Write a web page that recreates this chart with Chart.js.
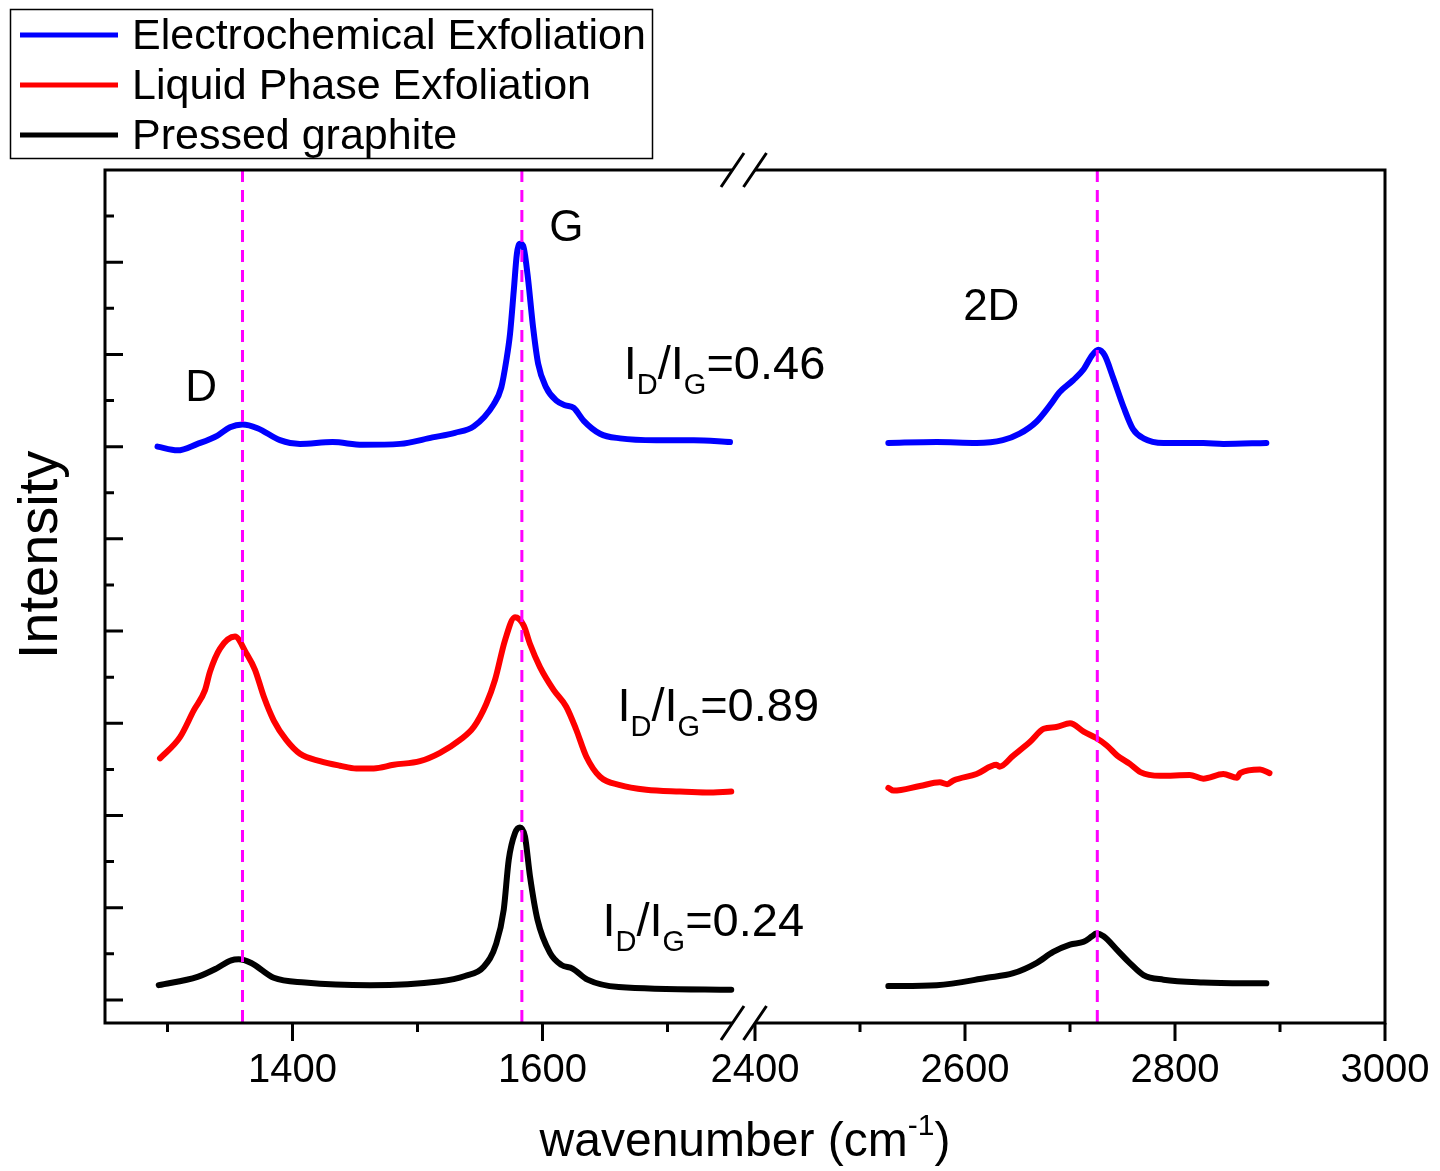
<!DOCTYPE html>
<html>
<head>
<meta charset="utf-8">
<script src="https://cdn.jsdelivr.net/npm/chart.js@4.4.1/dist/chart.umd.min.js"></script>
<style>
html,body{margin:0;padding:0;background:#fff;}
canvas{display:block;}
</style>
</head>
<body>
<canvas id="c" width="1440" height="1171"></canvas>
<script>
// ---------------- DATA ----------------
const seriesNames = ['Electrochemical Exfoliation', 'Liquid Phase Exfoliation', 'Pressed graphite'];
const seriesColors = ['#0000FF', '#FF0000', '#000000'];

// Electrochemical Exfoliation (blue)
const blueLeftWave = [1292,1308,1324,1340,1350,1360,1372,1390,1406,1432,1456,1486,1512,1530,1545,1561,1567,1571,1574,1577,1579.5,1582,1584.5,1588,1592.5,1596.5,1603,1611,1618,1625,1633,1646,1662,1691,1721,1750];
const blueLeftInt  = [6.00,5.96,6.03,6.12,6.21,6.24,6.20,6.07,6.03,6.05,6.02,6.03,6.10,6.15,6.22,6.46,6.64,6.93,7.22,7.69,8.09,8.20,8.18,7.87,7.29,6.90,6.64,6.50,6.45,6.42,6.28,6.14,6.09,6.07,6.07,6.05];
const blueRightWave = [2527,2573,2611,2636,2652,2668,2681,2690,2703,2713,2721,2727,2733,2741,2751,2760,2770,2789,2827,2846,2887];
const blueRightInt  = [6.04,6.05,6.04,6.07,6.14,6.27,6.45,6.59,6.72,6.84,6.99,7.05,6.99,6.75,6.43,6.19,6.09,6.04,6.04,6.03,6.04];

// Liquid Phase Exfoliation (red)
const redLeftWave = [1294,1310,1321,1330,1334,1342,1354,1363,1370,1377,1385,1395,1406,1422,1438,1451,1465,1481,1502,1518,1534,1545,1555,1562,1570,1578,1585,1590,1598,1609,1619,1627,1635,1646,1662,1683,1710,1731,1751];
const redLeftInt  = [2.62,2.85,3.14,3.36,3.56,3.81,3.94,3.76,3.58,3.29,3.03,2.82,2.67,2.59,2.54,2.51,2.51,2.55,2.59,2.68,2.82,2.96,3.21,3.47,3.90,4.15,4.06,3.86,3.61,3.36,3.18,2.93,2.64,2.42,2.33,2.28,2.26,2.25,2.26];
const redRightWave = [2527,2532,2557,2576,2583,2589,2611,2630,2633,2646,2662,2675,2687,2700,2713,2725,2735,2745,2757,2767,2786,2814,2827,2846,2859,2862,2881,2890];
const redRightInt  = [2.30,2.27,2.32,2.36,2.34,2.38,2.45,2.55,2.53,2.65,2.80,2.94,2.96,3.00,2.91,2.84,2.76,2.65,2.56,2.47,2.43,2.44,2.40,2.45,2.41,2.46,2.50,2.46];

// Pressed graphite (black)
const blackLeftWave = [1293,1324,1339,1351,1357,1367,1385,1410,1462,1517,1538,1553,1563,1569,1573,1578,1582,1586,1590,1596,1606,1615,1624,1636,1661,1751];
const blackLeftInt  = [0.16,0.25,0.34,0.43,0.44,0.40,0.24,0.19,0.16,0.20,0.26,0.36,0.61,0.98,1.52,1.81,1.87,1.77,1.34,0.87,0.51,0.38,0.34,0.22,0.14,0.11];
const blackRightWave = [2527,2573,2621,2646,2668,2684,2700,2713,2721,2725,2732,2745,2757,2770,2789,2827,2887];
const blackRightInt  = [0.15,0.16,0.24,0.29,0.40,0.52,0.60,0.63,0.69,0.72,0.69,0.54,0.40,0.27,0.22,0.19,0.18];

// Peak reference lines (D, G, 2D)
const peakLineWave = [1360, 1583.5, 2726];

// Axis ticks
const xMajorTicks = [1400, 1600, 2400, 2600, 2800, 3000];
const xMinorTicks = [1300, 1500, 1700, 2500, 2700, 2900];
const yMajorTicks = [0, 1, 2, 3, 4, 5, 6, 7, 8];
const yMinorTicks = [0.5, 1.5, 2.5, 3.5, 4.5, 5.5, 6.5, 7.5, 8.5];

// Annotations
const peakLabelText = ['D', 'G', '2D'];
const peakLabelWave = [1327, 1619, 2625];
const peakLabelInt  = [6.50, 8.23, 7.37];
const ratioText = ['0.46', '0.89', '0.24'];
const ratioWave = [1665, 1660, 1648];
const ratioInt  = [6.73, 3.03, 0.69];

// Axis extents
const X_MIN = 1250, BREAK_A = 1752, BREAK_B = 2400, X_MAX = 3000;
const Y_MIN = -0.25, Y_MAX = 9.0;
const LEFT_FRAC = 627.5 / 1280, RIGHT_START = 650 / 1280;

// ---------------- BROKEN AXIS SCALE ----------------
class BrokenLinearScale extends Chart.LinearScale {
  buildTicks() {
    return [...xMinorTicks, ...xMajorTicks].sort((a, b) => a - b).map(v => ({ value: v }));
  }
  toDecimal(v) {
    if (v <= BREAK_A) return (v - X_MIN) / (BREAK_A - X_MIN) * LEFT_FRAC;
    if (v >= BREAK_B) return RIGHT_START + (v - BREAK_B) / (X_MAX - BREAK_B) * (1 - RIGHT_START);
    return LEFT_FRAC + (v - BREAK_A) / (BREAK_B - BREAK_A) * (RIGHT_START - LEFT_FRAC);
  }
  getPixelForValue(v) {
    if (v === null || v === undefined) return NaN;
    return this.getPixelForDecimal(this.toDecimal(v));
  }
  getValueForPixel(p) {
    const d = this.getDecimalForPixel(p);
    if (d <= LEFT_FRAC) return X_MIN + d / LEFT_FRAC * (BREAK_A - X_MIN);
    if (d >= RIGHT_START) return BREAK_B + (d - RIGHT_START) / (1 - RIGHT_START) * (X_MAX - BREAK_B);
    return BREAK_A + (d - LEFT_FRAC) / (RIGHT_START - LEFT_FRAC) * (BREAK_B - BREAK_A);
  }
}
BrokenLinearScale.id = 'brokenLinear';
BrokenLinearScale.defaults = Chart.LinearScale.defaults;
Chart.register(BrokenLinearScale);

// ---------------- DATASETS ----------------
const pts = (w, v) => w.map((x, i) => ({ x: x, y: v[i] }));
const FONT = "'Liberation Sans', Arial, Helvetica, sans-serif";

const datasets = [];
peakLineWave.forEach(p => {
  datasets.push({
    label: 'peak', data: [{ x: p, y: Y_MAX }, { x: p, y: Y_MIN }],
    borderColor: '#FF00FF', borderWidth: 3, borderDash: [12, 8], pointRadius: 0, tension: 0
  });
});
const segs = [
  [blueLeftWave, blueLeftInt, 0], [blueRightWave, blueRightInt, 0],
  [redLeftWave, redLeftInt, 1], [redRightWave, redRightInt, 1],
  [blackLeftWave, blackLeftInt, 2], [blackRightWave, blackRightInt, 2]
];
segs.forEach(([w, v, s]) => {
  datasets.push({
    label: seriesNames[s], data: pts(w, v),
    borderColor: seriesColors[s], borderWidth: 6, pointRadius: 0,
    cubicInterpolationMode: 'monotone', borderJoinStyle: 'round', borderCapStyle: 'round'
  });
});

// ---------------- DECORATION PLUGIN ----------------
function drawRatio(ctx, x, y, value) {
  const big = '47px ' + FONT, small = '29px ' + FONT;
  const parts = [['I', big, 0], ['D', small, 15], ['/', big, 0], ['I', big, 0], ['G', small, 15], ['=' + value, big, 0]];
  let cx = x;
  ctx.textAlign = 'left'; ctx.textBaseline = 'alphabetic';
  parts.forEach(([t, f, dy]) => {
    ctx.font = f;
    ctx.fillText(t, cx, y + dy);
    cx += ctx.measureText(t).width;
  });
}

const decor = {
  id: 'decor',
  afterDatasetsDraw(chart) {
    const { ctx, chartArea: { left, right, top, bottom }, scales: { x, y } } = chart;
    ctx.save();
    ctx.strokeStyle = '#000'; ctx.fillStyle = '#000';
    ctx.lineWidth = 3; ctx.lineCap = 'butt'; ctx.lineJoin = 'miter';
    const bA = x.getPixelForValue(BREAK_A), bB = x.getPixelForValue(BREAK_B);
    // frame with break
    ctx.beginPath();
    ctx.moveTo(bA, top); ctx.lineTo(left, top); ctx.lineTo(left, bottom); ctx.lineTo(bA, bottom);
    ctx.moveTo(bB, bottom); ctx.lineTo(right, bottom); ctx.lineTo(right, top); ctx.lineTo(bB, top);
    ctx.stroke();
    // break marks
    ctx.beginPath();
    [bA, bB].forEach(cx => {
      [top, bottom].forEach(cy => {
        ctx.moveTo(cx - 11.5, cy + 17); ctx.lineTo(cx + 11.5, cy - 17);
      });
    });
    ctx.stroke();
    // x ticks (outward)
    ctx.beginPath();
    xMajorTicks.forEach(v => { const p = x.getPixelForValue(v); ctx.moveTo(p, bottom); ctx.lineTo(p, bottom + 18); });
    xMinorTicks.forEach(v => { const p = x.getPixelForValue(v); ctx.moveTo(p, bottom); ctx.lineTo(p, bottom + 9); });
    // y ticks (inward)
    yMajorTicks.forEach(v => { const p = y.getPixelForValue(v); ctx.moveTo(left, p); ctx.lineTo(left + 18, p); });
    yMinorTicks.forEach(v => { const p = y.getPixelForValue(v); ctx.moveTo(left, p); ctx.lineTo(left + 9, p); });
    ctx.stroke();

    // peak labels
    ctx.font = '44px ' + FONT; ctx.textAlign = 'center'; ctx.textBaseline = 'alphabetic';
    peakLabelText.forEach((t, i) => {
      ctx.fillText(t, x.getPixelForValue(peakLabelWave[i]), y.getPixelForValue(peakLabelInt[i]));
    });
    // ratio labels
    ratioText.forEach((t, i) => {
      drawRatio(ctx, x.getPixelForValue(ratioWave[i]), y.getPixelForValue(ratioInt[i]), t);
    });

    // x axis title with superscript
    const tf = '48px ' + FONT, sf = '30px ' + FONT;
    ctx.font = tf; const w1 = ctx.measureText('wavenumber (cm').width; const w3 = ctx.measureText(')').width;
    ctx.font = sf; const w2 = ctx.measureText('-1').width;
    let sx = (left + right) / 2 - (w1 + w2 + w3) / 2;
    const by = bottom + 133;
    ctx.textAlign = 'left';
    ctx.font = tf; ctx.fillText('wavenumber (cm', sx, by); sx += w1;
    ctx.font = sf; ctx.fillText('-1', sx, by - 21); sx += w2;
    ctx.font = tf; ctx.fillText(')', sx, by);

    // y axis title
    ctx.save();
    ctx.translate(57, 555);
    ctx.rotate(-Math.PI / 2);
    ctx.font = '56px ' + FONT; ctx.textAlign = 'center'; ctx.textBaseline = 'alphabetic';
    ctx.fillText('Intensity', 0, 0);
    ctx.restore();

    // legend
    ctx.lineWidth = 1.5; ctx.strokeStyle = '#000';
    ctx.strokeRect(10.5, 9.5, 642, 149);
    ctx.font = '43px ' + FONT; ctx.textAlign = 'left'; ctx.textBaseline = 'middle';
    seriesNames.forEach((n, i) => {
      const ly = 35 + 50 * i;
      ctx.strokeStyle = seriesColors[i]; ctx.lineWidth = 5;
      ctx.beginPath(); ctx.moveTo(20, ly); ctx.lineTo(118, ly); ctx.stroke();
      ctx.fillStyle = '#000';
      ctx.fillText(n, 132, ly + 2);
    });
    ctx.restore();
  }
};

// ---------------- CHART ----------------
new Chart(document.getElementById('c'), {
  type: 'line',
  data: { datasets: datasets },
  options: {
    responsive: false, animation: false, devicePixelRatio: 1, events: [],
    layout: { padding: { left: 105, right: 55, top: 170, bottom: 0 } },
    plugins: { legend: { display: false }, tooltip: { enabled: false } },
    scales: {
      x: {
        type: 'brokenLinear', min: X_MIN, max: X_MAX, position: 'bottom',
        grid: { display: false, drawTicks: true, tickLength: 24 }, border: { display: false },
        ticks: {
          autoSkip: false, maxRotation: 0, minRotation: 0, padding: 0, color: '#000',
          font: { family: FONT, size: 40 },
          callback: (v) => xMajorTicks.includes(v) ? String(v) : ''
        },
        afterFit: (s) => { s.height = 148; }
      },
      y: { type: 'linear', min: Y_MIN, max: Y_MAX, display: false }
    }
  },
  plugins: [decor]
});
</script>
</body>
</html>
